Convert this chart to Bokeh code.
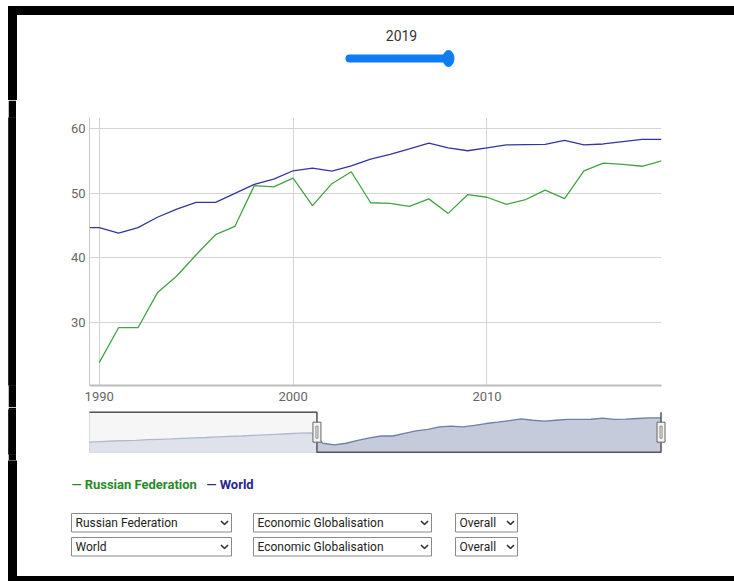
from bokeh.plotting import figure
from bokeh.layouts import column, row
from bokeh.models import Range1d, FixedTicker
from bokeh.core.properties import value
from bokeh.embed import file_html
from bokeh.resources import INLINE

# ---------------- data ----------------
years = list(range(1990, 2020))
russia = [23.8, 29.2, 29.2, 34.6, 37.2, 40.5, 43.6, 44.9, 51.2, 51.0,
          52.35, 48.1, 51.5, 53.35, 48.55, 48.45, 48.0, 49.15, 46.9, 49.8,
          49.4, 48.3, 49.05, 50.5, 49.2, 53.5, 54.7, 54.5, 54.2, 55.05]
world_years = list(range(1989, 2020))
world = [44.7, 44.7, 43.85, 44.7, 46.3, 47.55, 48.6, 48.6, 50.0, 51.4,
         52.2, 53.5, 53.9, 53.45, 54.25, 55.3, 56.05, 56.9, 57.8, 57.05,
         56.6, 57.05, 57.5, 57.55, 57.6, 58.2, 57.5, 57.65, 58.0, 58.35, 58.35]
nav_years = list(range(1970, 2020))
nav_values = [45.3, 45.6, 45.9, 46.1, 46.3, 46.6, 46.8, 47.0, 47.3, 47.6,
              47.8, 48.1, 48.4, 48.6, 48.9, 49.2, 49.5, 49.8, 50.1, 50.3] + world[1:]
x_ticks = [1990, 2000, 2010]
y_ticks = [30, 40, 50, 60]
series_names = ["Russian Federation", "World"]
indicator = "Economic Globalisation"
sub_indicator = "Overall"
year_label = "2019"
sel_start, sel_end = 1989.5, 2019

GREEN = "#43a343"
BLUE = "#35359f"
GREEN_TXT = "#2a8a2a"
BLUE_TXT = "#29298f"
FONT = "Roboto"
W = 734
LW = 16  # width of the left strip (white 8 + black 8)


def blank(width, height, xr, yr, **kw):
    f = figure(width=width, height=height, x_range=xr, y_range=yr,
               output_backend="svg", toolbar_location=None,
               x_axis_location=None, y_axis_location=None,
               min_border=0, outline_line_color=None, **kw)
    f.xgrid.visible = False
    f.ygrid.visible = False
    return f


def strip(height, color):
    s = blank(8, height, Range1d(0, 1), Range1d(0, 1),
              background_fill_color=color, border_fill_color=color)
    s.quad(left=[0], right=[1], bottom=[0], top=[1], color=color)
    return s


# ---------------- header (slider) ----------------
H1 = 100
hdr = blank(W, H1, Range1d(0, W), Range1d(H1, 0))
hdr.quad(left=[8], right=[W], top=[6], bottom=[14], color="black")
hdr.quad(left=[8], right=[LW], top=[6], bottom=[H1], color="black")
hdr.text(x=[401], y=[35], text=[year_label], text_align="center",
         text_baseline="middle", text_font=value(FONT),
         text_font_size="14px", text_color="#333333")
hdr.segment(x0=[349], y0=[58], x1=[447], y1=[58], line_width=8,
            line_cap="round", color="#0d7df4")
hdr.ellipse(x=[448], y=[58], width=11, height=16, color="#0d7df4")

# ---------------- main chart ----------------
H2 = 307
p = figure(width=W - LW, height=H2, x_range=Range1d(1989.5, 2019),
           y_range=Range1d(20.25, 61.75), output_backend="svg",
           toolbar_location=None, min_border_left=73, min_border_right=73,
           min_border_top=17, min_border_bottom=22, outline_line_color=None)
p.line(world_years, world, color=BLUE, line_width=1.3)
p.line(years, russia, color=GREEN, line_width=1.3)
p.xaxis.ticker = FixedTicker(ticks=x_ticks)
p.yaxis.ticker = FixedTicker(ticks=y_ticks)
for ax in (p.xaxis[0], p.yaxis[0]):
    ax.major_tick_line_color = None
    ax.minor_tick_line_color = None
    ax.major_tick_out = 0
    ax.major_tick_in = 0
    ax.major_label_text_font = FONT
    ax.major_label_text_font_size = "13px"
    ax.major_label_text_color = "#666666"
p.xaxis.axis_line_color = "#bdbdbd"
p.xaxis.axis_line_width = 2
p.yaxis.axis_line_color = "#c8c8c8"
p.xaxis.major_label_standoff = 6
p.yaxis.major_label_standoff = 4
p.xgrid.grid_line_color = "#d4d4d4"
p.ygrid.grid_line_color = "#d4d4d4"

# ---------------- navigator ----------------
H3 = 53
nav_lo, nav_hi = 39.9, 61.4
nav = figure(width=W - LW, height=H3, x_range=Range1d(1969.57, 2019.47),
             y_range=Range1d(38.66, 62.83), output_backend="svg",
             toolbar_location=None, x_axis_location=None, y_axis_location=None,
             min_border_left=68, min_border_right=68, min_border_top=2,
             min_border_bottom=6, outline_line_color=None)
nav.xgrid.visible = False
nav.ygrid.visible = False
nav.quad(left=[1970], right=[sel_start], bottom=[nav_lo], top=[nav_hi],
         fill_color="#eeeeee", line_color="#d0d0d0")
nav.varea(x=nav_years, y1=[nav_lo] * len(nav_years), y2=nav_values,
          fill_color="#c5cbdb")
nav.line(nav_years, nav_values, color="#6f7fa6", line_width=1.3)
nav.quad(left=[1970], right=[sel_start], bottom=[nav_lo], top=[nav_hi],
         fill_color="white", fill_alpha=0.45, line_color=None)
nav.line([1970, sel_start, sel_start, sel_end, sel_end],
         [nav_hi, nav_hi, nav_lo, nav_lo, nav_hi], color="#555555", line_width=1.5)
hy = (nav_lo + nav_hi) / 2
nav.rect(x=[sel_start, sel_end], y=[hy, hy], width=8, height=20,
         width_units="screen", height_units="screen",
         fill_color="#f2f2f2", line_color="#666666")
nav.rect(x=[sel_start, sel_end], y=[hy, hy], width=2, height=12,
         width_units="screen", height_units="screen",
         fill_color=None, line_color="#888888")

# ---------------- legend + selects ----------------
H4 = 121
T4 = 460  # page y of this block's top
bot = blank(W, H4, Range1d(0, W), Range1d(T4 + H4, T4))
bot.quad(left=[8], right=[LW], top=[T4], bottom=[576], color="black")
bot.quad(left=[8], right=[W], top=[576], bottom=[T4 + H4], color="black")
bot.text(x=[71, 206], y=[484, 484], text=["\u2014 " + n for n in series_names],
         text_color=[GREEN_TXT, BLUE_TXT], text_font=value(FONT),
         text_font_size="13px", text_font_style="bold",
         text_align="left", text_baseline="middle")

box_left = [71, 253, 455]
box_right = [231, 431, 517]
row_top = [513, 537]
row_h = 18.5
for ri, name in enumerate(series_names):
    labels = [name, indicator, sub_indicator]
    t = row_top[ri]
    bot.quad(left=box_left, right=box_right, top=[t] * 3, bottom=[t + row_h] * 3,
             fill_color="white", line_color="#8a8a8a", line_width=1)
    cy = t + row_h / 2
    bot.text(x=[l + 4 for l in box_left], y=[cy] * 3, text=labels,
             text_font=value(FONT), text_font_size="12px", text_color="#222222",
             text_align="left", text_baseline="middle")
    xs = [[r - 10.5, r - 7, r - 3.5] for r in box_right]
    ys = [[cy - 1.8, cy + 1.8, cy - 1.8]] * 3
    bot.multi_line(xs, ys, line_color="#333333", line_width=1.6)

layout = column(hdr,
                row(strip(H2, "white"), strip(H2, "black"), p),
                row(strip(H3, "white"), strip(H3, "black"), nav),
                bot)
open("out.html", "w").write(file_html(layout, INLINE))
